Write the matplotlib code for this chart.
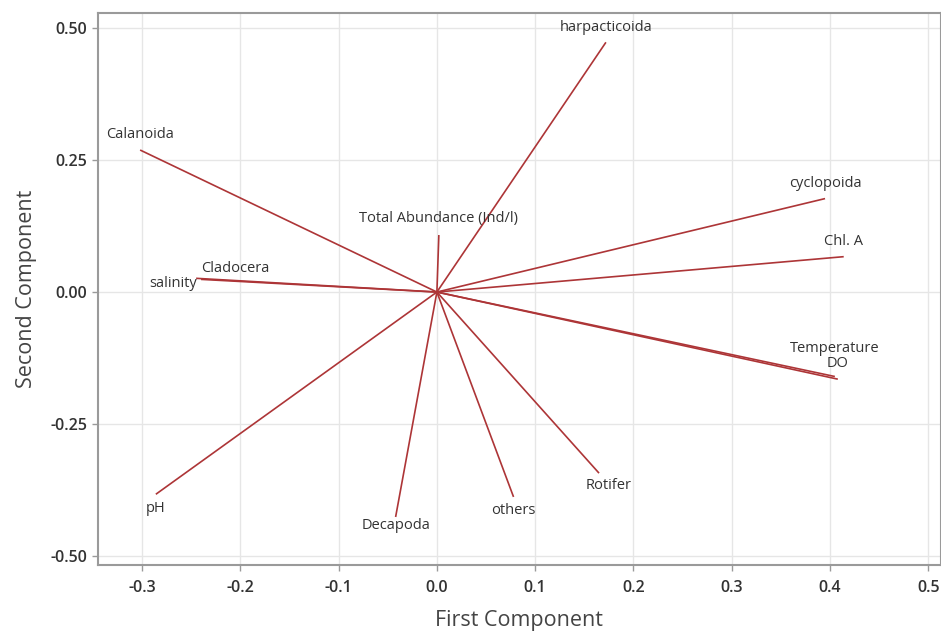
import matplotlib.pyplot as plt

# loadings (first, second component)
variables = ['harpacticoida', 'cyclopoida', 'Chl. A', 'Temperature', 'DO',
             'Rotifer', 'others', 'Decapoda', 'pH', 'Calanoida',
             'Cladocera', 'salinity', 'Total Abundance (Ind/l)']
pc1 = [0.172, 0.395, 0.414, 0.405, 0.408,
       0.165, 0.078, -0.042, -0.286, -0.302,
       -0.245, -0.240, 0.002]
pc2 = [0.473, 0.177, 0.067, -0.160, -0.165,
       -0.343, -0.388, -0.426, -0.383, 0.269,
       0.026, 0.024, 0.108]

xticks = [-0.3, -0.2, -0.1, 0.0, 0.1, 0.2, 0.3, 0.4, 0.5]
yticks = [-0.50, -0.25, 0.00, 0.25, 0.50]

# label offsets in points (dx, dy)
offsets = {
    'Temperature': (0, 20),
    'DO': (0, 11),
    'Cladocera': (28, 7),
    'salinity': (-20, -3),
    'Rotifer': (7, -9),
    'Decapoda': (0, -6),
    'Total Abundance (Ind/l)': (0, 12),
}

plt.rcParams['font.family'] = ['Open Sans', 'DejaVu Sans']

fig = plt.figure(figsize=(9.41, 6.37), dpi=100)
ax = fig.add_axes([0.104, 0.113, 0.896, 0.867])

line_color = '#ad3537'
for name, x, y in zip(variables, pc1, pc2):
    ax.plot([0, x], [0, y], color=line_color, linewidth=1.2, solid_capstyle='butt')
    if name in offsets:
        dx, dy = offsets[name]
    elif y >= 0:
        dx, dy = (0, 11)
    else:
        dx, dy = (0, -10)
    ax.annotate(name, (x, y), textcoords='offset points', xytext=(dx, dy),
                ha='center', va='center', fontsize=10.5, color='#333333')

ax.set_xlim(-0.345, 0.513)
ax.set_ylim(-0.517, 0.529)
ax.set_xticks(xticks)
ax.set_yticks(yticks)
ax.set_xticklabels([f'{t:.1f}' for t in xticks])
ax.set_yticklabels([f'{t:.2f}' for t in yticks])
ax.grid(True, color='#e6e6e6', linewidth=1.0)
ax.set_axisbelow(True)

for side in ['left', 'bottom', 'top', 'right']:
    ax.spines[side].set_color('#9a9a9a')
    ax.spines[side].set_linewidth(1.5)

ax.tick_params(axis='both', colors='#9a9a9a', labelcolor='#333333',
               labelsize=11.5, length=4, width=1)
ax.tick_params(axis='x', pad=7)
for lbl in ax.get_xticklabels() + ax.get_yticklabels():
    lbl.set_fontweight('semibold')

ax.set_xlabel('First Component', fontsize=15.5, color='#444444', labelpad=10,
              fontweight='medium')
ax.set_ylabel('Second Component', fontsize=15.5, color='#444444', labelpad=10,
              fontweight='medium')

plt.savefig('out.png', dpi=100)
